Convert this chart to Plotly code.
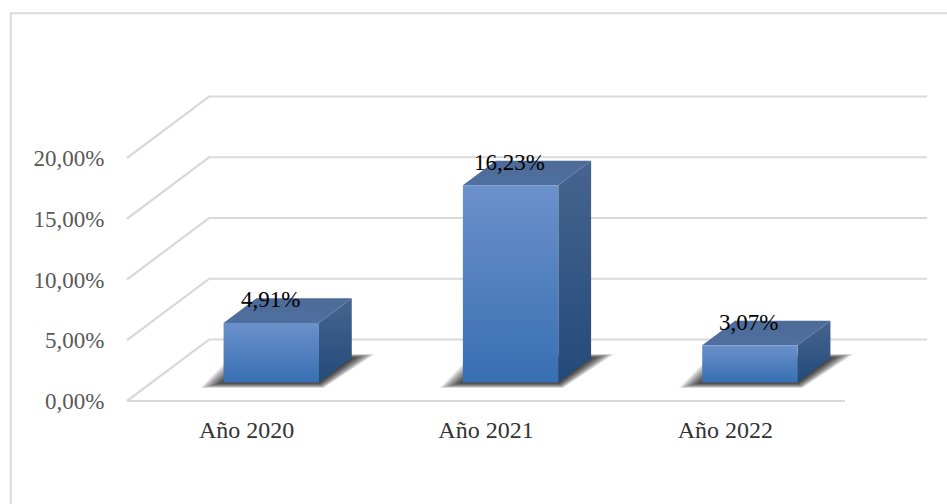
import plotly.graph_objects as go

# Chart content
categories = ["Año 2020", "Año 2021", "Año 2022"]
values = [4.91, 16.23, 3.07]
y_ticks = [0, 5, 10, 15, 20]
y_tick_labels = ["0,00%", "5,00%", "10,00%", "15,00%", "20,00%"]

# Front plane of the chart in pixels and the oblique projection used for the 3D look
WIDTH, HEIGHT = 947, 504
LEFT, RIGHT, TOP, BOTTOM = 127, 845, 158, 401
PX_PER_CAT = (RIGHT - LEFT) / 3
PX_PER_VAL = (BOTTOM - TOP) / 20
DEPTH_DX = 82 / PX_PER_CAT    # horizontal shift of the full floor depth, in category units
DEPTH_DY = 61.5 / PX_PER_VAL  # vertical shift of the full floor depth, in value units

BAR_HALF = 47.7 / PX_PER_CAT
BAR_NEAR, BAR_FAR = 0.30, 0.70
GRID = "#d9d9d9"
FONT = "Liberation Serif"


def project(cat, val, depth=0.0):
    return cat + depth * DEPTH_DX, val + depth * DEPTH_DY


def polygon(points):
    xs, ys = zip(*points)
    return list(xs) + [xs[0]], list(ys) + [ys[0]]


def face(points, top_color, bottom_color, lo, hi):
    xs, ys = polygon(points)
    return go.Scatter(
        x=xs, y=ys, mode="lines", line=dict(width=0), fill="toself",
        fillgradient=dict(
            type="vertical",
            colorscale=[[0, bottom_color], [1, top_color]],
            start=lo, stop=hi,
        ),
        hoverinfo="skip", showlegend=False,
    )


fig = go.Figure()

# Back wall, side wall and floor rules
x_lo, x_hi = -0.5, 2.5
for tick in y_ticks:
    p0 = project(x_lo, tick)
    p1 = project(x_lo, tick, 1)
    p2 = project(x_hi, tick, 1)
    fig.add_trace(go.Scatter(
        x=[p0[0], p1[0], p2[0]], y=[p0[1], p1[1], p2[1]], mode="lines",
        line=dict(color=GRID, width=2.2), hoverinfo="skip", showlegend=False,
    ))
fig.add_trace(go.Scatter(
    x=[x_lo, x_hi], y=[0, 0], mode="lines", line=dict(color=GRID, width=2.2),
    hoverinfo="skip", showlegend=False,
))

# Soft floor shadows built from stacked translucent polygons
SHADOW_STEPS = 16
for i in range(len(categories)):
    nl = project(i - BAR_HALF, 0, BAR_NEAR)
    nr = project(i + BAR_HALF, 0, BAR_NEAR)
    fr = project(i + BAR_HALF, 0, BAR_FAR)
    fl = project(i - BAR_HALF, 0, BAR_FAR)
    for k in range(SHADOW_STEPS, 0, -1):
        pad_x = k * 1.45 / PX_PER_CAT
        pad_near = k * 0.34 / PX_PER_VAL
        pad_far = k * 0.24 / PX_PER_VAL
        xs, ys = polygon([
            (nl[0] - pad_x, nl[1] - pad_near),
            (nr[0] + pad_x * 0.2, nr[1] - pad_near),
            (fr[0] + pad_x, fr[1] + pad_far),
            (fl[0] - pad_x, fl[1] + pad_far),
        ])
        fig.add_trace(go.Scatter(
            x=xs, y=ys, mode="lines", line=dict(width=0), fill="toself",
            fillcolor="rgba(0,0,0,0.075)", hoverinfo="skip", showlegend=False,
        ))

# Bars: side, top and front faces
for i, v in enumerate(values):
    a = project(i - BAR_HALF, 0, BAR_NEAR)
    b = project(i + BAR_HALF, 0, BAR_NEAR)
    c = project(i + BAR_HALF, v, BAR_NEAR)
    d = project(i - BAR_HALF, v, BAR_NEAR)
    e = project(i + BAR_HALF, 0, BAR_FAR)
    f = project(i + BAR_HALF, v, BAR_FAR)
    g = project(i - BAR_HALF, v, BAR_FAR)
    fig.add_trace(face([b, e, f, c], "#47648f", "#234a7a", b[1], f[1]))
    fig.add_trace(face([d, c, f, g], "#4d6b99", "#4f6f9e", c[1], f[1]))
    fig.add_trace(face([a, b, c, d], "#6b91ca", "#386fb3", a[1], c[1]))

# Value labels sit just above the front edge of each bar
annotations = []
for i, v in enumerate(values):
    x, y = project(i, v, BAR_NEAR)
    annotations.append(dict(
        x=x - 1 / PX_PER_CAT, y=y, yshift=23, xref="x", yref="y",
        text=f"{v:.2f}%".replace(".", ","), showarrow=False,
        xanchor="center", yanchor="middle",
        font=dict(family=FONT, size=23, color="#000000"),
    ))

# Open chart frame: left and top edges only
frame_left = 10.7 / WIDTH
frame_top = 1 - 13.3 / HEIGHT

fig.update_layout(
    width=WIDTH, height=HEIGHT,
    margin=dict(l=0, r=0, t=0, b=0, pad=0),
    paper_bgcolor="white", plot_bgcolor="rgba(0,0,0,0)",
    showlegend=False,
    annotations=annotations,
    shapes=[dict(
        type="path", xref="paper", yref="paper", layer="below",
        path=f"M {frame_left},0 L {frame_left},{frame_top} L 1,{frame_top}",
        line=dict(color=GRID, width=2),
    )],
    # The plot area fills the page so the receding walls are not clipped;
    # both axes are pinned to the front plane of the chart.
    xaxis=dict(
        range=[x_lo - LEFT / PX_PER_CAT, x_lo + (WIDTH - LEFT) / PX_PER_CAT],
        anchor="free", position=(HEIGHT - BOTTOM) / HEIGHT, side="bottom",
        tickmode="array", tickvals=list(range(len(categories))),
        ticktext=categories, showgrid=False, zeroline=False, showline=False,
        ticks="outside", ticklen=7, tickcolor="rgba(0,0,0,0)",
        tickfont=dict(family=FONT, size=24, color="#333333"),
    ),
    yaxis=dict(
        range=[(BOTTOM - HEIGHT) / PX_PER_VAL, BOTTOM / PX_PER_VAL],
        anchor="free", position=LEFT / WIDTH, side="left",
        tickmode="array", tickvals=y_ticks, ticktext=y_tick_labels,
        showgrid=False, zeroline=False, showline=False,
        ticks="outside", ticklen=18, tickcolor="rgba(0,0,0,0)",
        tickfont=dict(family=FONT, size=23, color="#595959"),
    ),
)

fig.write_html("out.html")
